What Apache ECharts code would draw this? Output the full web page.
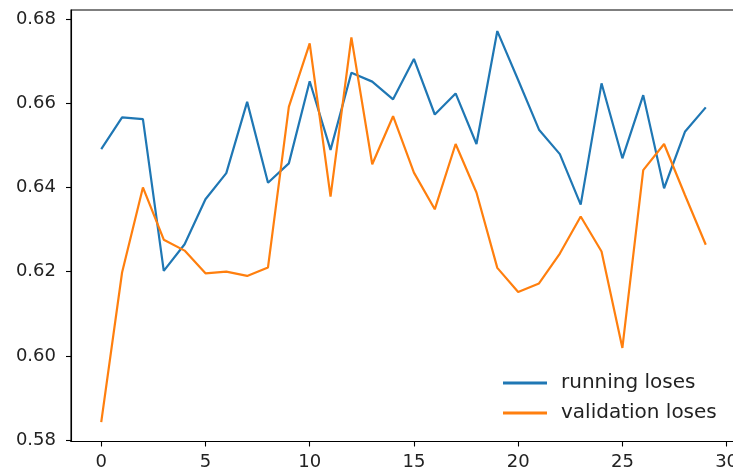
<!DOCTYPE html>
<html>
<head>
<meta charset="utf-8">
<script src="https://cdn.jsdelivr.net/npm/echarts@6/dist/echarts.min.js"></script>
<style>
html,body{margin:0;padding:0;background:#fff;}
#chart{width:733px;height:473px;}
</style>
</head>
<body>
<div id="chart"></div>
<script>
const epochs = [0,1,2,3,4,5,6,7,8,9,10,11,12,13,14,15,16,17,18,19,20,21,22,23,24,25,26,27,28,29];
const runningLoses = [0.6491,0.6566,0.6562,0.6202,0.6265,0.6372,0.6434,0.6603,0.6411,0.6457,
  0.6652,0.6489,0.6672,0.6651,0.6609,0.6705,0.6573,0.6623,0.6503,0.6771,
  0.6655,0.6537,0.6479,0.6359,0.6647,0.6469,0.6619,0.6398,0.6532,0.6590];
const validationLoses = [0.5843,0.6198,0.6400,0.6276,0.6250,0.6196,0.6200,0.6190,0.6210,0.6591,
  0.6742,0.6378,0.6756,0.6455,0.6569,0.6435,0.6348,0.6503,0.6388,0.6209,
  0.6152,0.6172,0.6243,0.6331,0.6248,0.6019,0.6441,0.6503,0.6382,0.6264];
const xTicks = [0,5,10,15,20,25,30];
const yTicks = [0.58,0.60,0.62,0.64,0.66,0.68];
const seriesNames = ['running loses','validation loses'];

const chart = echarts.init(document.getElementById('chart'), null, {renderer:'canvas'});
const font = 'DejaVu Sans';
const toPairs = (vals) => epochs.map((e,i) => [e, vals[i]]);

chart.setOption({
  animation: false,
  backgroundColor: '#fff',
  grid: {left: 71, width: 665, top: 10, bottom: 31.5, show: true, borderColor: '#000', borderWidth: 1.1,
    containLabel: false, outerBoundsMode: 'none'},
  xAxis: {
    type: 'value', min: -1.45, max: 30.45,
    axisLine: {show: true, onZero: false, lineStyle: {color: '#000', width: 1.1}},
    axisTick: {show: true, length: 5, customValues: xTicks, lineStyle: {color: '#000', width: 1.1}},
    axisLabel: {customValues: xTicks, color: '#222', fontFamily: font, fontSize: 18, margin: 12},
    splitLine: {show: false}
  },
  yAxis: {
    type: 'value', min: 0.5797, max: 0.6821,
    axisLine: {show: true, onZero: false, lineStyle: {color: '#000', width: 1.1}},
    axisTick: {show: true, length: 5, customValues: yTicks, lineStyle: {color: '#000', width: 1.1}},
    axisLabel: {customValues: yTicks, color: '#222', fontFamily: font, fontSize: 18, margin: 15,
      formatter: v => v.toFixed(2)},
    splitLine: {show: false}
  },
  legend: {
    orient: 'vertical', left: 498, top: 368, itemWidth: 44, itemHeight: 3, itemGap: 10,
    icon: 'rect',
    textStyle: {color: '#222', fontFamily: font, fontSize: 20, padding: [0,0,0,9]},
    data: seriesNames
  },
  series: [
    {name: seriesNames[0], type: 'line', data: toPairs(runningLoses), showSymbol: false, symbol: 'none',
     lineStyle: {color: '#1f77b4', width: 2.2}, itemStyle: {color: '#1f77b4'}},
    {name: seriesNames[1], type: 'line', data: toPairs(validationLoses), showSymbol: false, symbol: 'none',
     lineStyle: {color: '#ff7f0e', width: 2.2}, itemStyle: {color: '#ff7f0e'}}
  ]
});
</script>
</body>
</html>
